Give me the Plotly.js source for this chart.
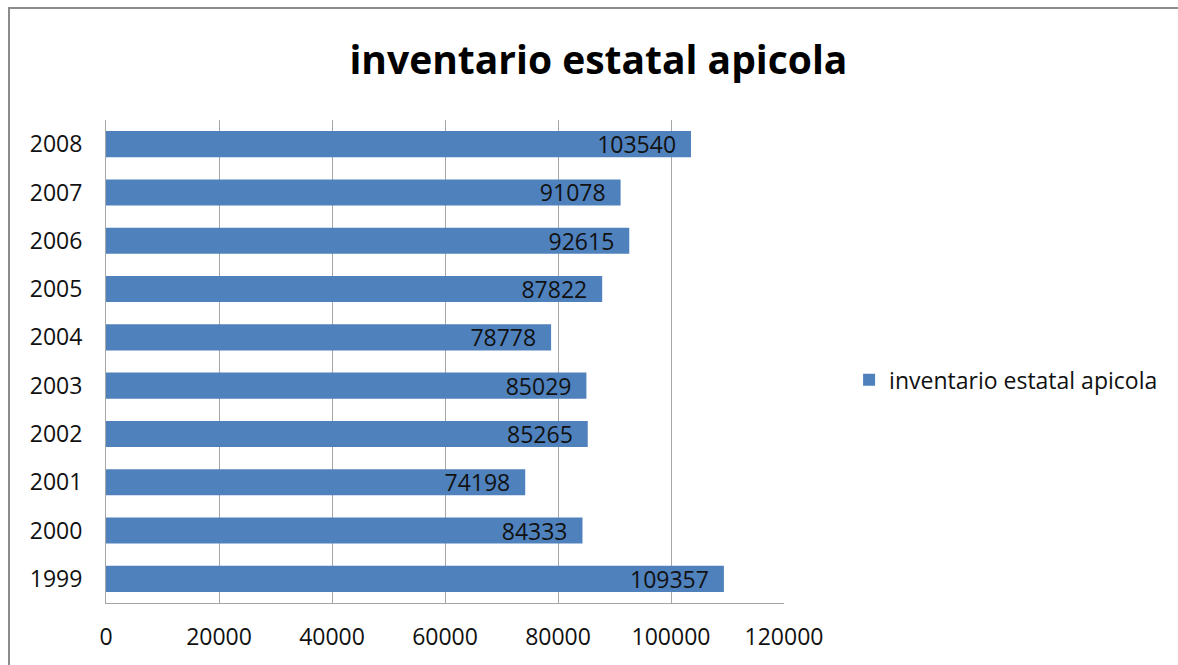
<!DOCTYPE html>
<html>
<head>
<meta charset="utf-8">
<script src="https://cdn.plot.ly/plotly-3.0.1.min.js"></script>
<style>
  html, body { margin: 0; padding: 0; background: #ffffff; overflow: hidden; }
  #chart { position: absolute; left: 0; top: 0; width: 1178px; height: 665px; }
  #frame { position: absolute; left: 8px; top: 7px; width: 1200px; height: 700px;
           border-left: 2px solid #8c8c8c; border-top: 2px solid #8c8c8c; pointer-events: none; }
</style>
</head>
<body>
<div id="chart"></div>
<div id="frame"></div>
<script>
const years = ["1999", "2000", "2001", "2002", "2003", "2004", "2005", "2006", "2007", "2008"];
const values = [109357, 84333, 74198, 85265, 85029, 78778, 87822, 92615, 91078, 103540];
const seriesName = "inventario estatal apicola";
const chartTitle = "inventario estatal apicola";
const xTicks = [0, 20000, 40000, 60000, 80000, 100000, 120000];

const font = "Open Sans, sans-serif";

const trace = {
  type: "bar",
  orientation: "h",
  y: years,
  x: values,
  name: seriesName,
  text: values.map(v => String(v) + "\u00a0\u00a0"),
  textposition: "inside",
  insidetextanchor: "end",
  constraintext: "none",
  textfont: { family: font, size: 23, color: "#111111" },
  marker: { color: "#4F81BD" },
  showlegend: true,
  hoverinfo: "x+y"
};

const layout = {
  width: 1178,
  height: 665,
  margin: { l: 106, r: 394, t: 120, b: 62 },
  paper_bgcolor: "rgba(0,0,0,0)",
  plot_bgcolor: "rgba(0,0,0,0)",
  font: { family: font, size: 23, color: "#111111" },
  title: {
    text: chartTitle,
    font: { family: font, size: 39, color: "#000000", weight: "bold" },
    x: 0.508, xanchor: "center",
    y: 0.91, yanchor: "middle"
  },
  bargap: 0.46,
  xaxis: {
    range: [0, 120000],
    tickvals: xTicks,
    ticktext: xTicks.map(String),
    showgrid: true,
    gridcolor: "#a6a6a6",
    gridwidth: 1,
    showline: true,
    linecolor: "#a6a6a6",
    linewidth: 1,
    zeroline: false,
    ticks: "",
    ticklabelstandoff: 13,
    tickfont: { family: font, size: 23, color: "#111111" },
    fixedrange: true
  },
  yaxis: {
    type: "category",
    showgrid: false,
    showline: true,
    linecolor: "#a6a6a6",
    linewidth: 1,
    zeroline: false,
    ticks: "",
    ticklabelstandoff: 18,
    tickfont: { family: font, size: 23, color: "#111111" },
    fixedrange: true
  },
  legend: {
    x: 1.096, xanchor: "left",
    y: 0.462, yanchor: "middle",
    font: { family: font, size: 23, color: "#111111" },
    bgcolor: "rgba(0,0,0,0)"
  }
};

Plotly.newPlot("chart", [trace], layout, { displayModeBar: false, staticPlot: true });
</script>
</body>
</html>
